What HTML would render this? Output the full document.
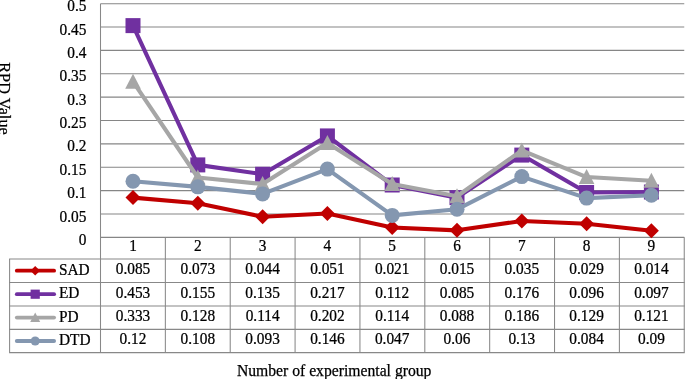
<!DOCTYPE html>
<html><head><meta charset="utf-8"><title>RPD chart</title>
<style>html,body{margin:0;padding:0;background:#fff}svg{display:block}text{stroke:#000;stroke-width:0.25px}</style></head>
<body>
<svg width="685" height="379" viewBox="0 0 685 379" font-family="'Liberation Serif', serif" font-size="15.9" fill="#000">
<rect width="685" height="379" fill="#fff"/>
<line x1="100.5" x2="684.25" y1="237.35" y2="237.35" stroke="#868686" stroke-width="1.05"/>
<line x1="100.5" x2="684.25" y1="213.98" y2="213.98" stroke="#868686" stroke-width="1.05"/>
<line x1="100.5" x2="684.25" y1="190.61" y2="190.61" stroke="#868686" stroke-width="1.05"/>
<line x1="100.5" x2="684.25" y1="167.24" y2="167.24" stroke="#868686" stroke-width="1.05"/>
<line x1="100.5" x2="684.25" y1="143.87" y2="143.87" stroke="#868686" stroke-width="1.05"/>
<line x1="100.5" x2="684.25" y1="120.50" y2="120.50" stroke="#868686" stroke-width="1.05"/>
<line x1="100.5" x2="684.25" y1="97.13" y2="97.13" stroke="#868686" stroke-width="1.05"/>
<line x1="100.5" x2="684.25" y1="73.76" y2="73.76" stroke="#868686" stroke-width="1.05"/>
<line x1="100.5" x2="684.25" y1="50.39" y2="50.39" stroke="#868686" stroke-width="1.05"/>
<line x1="100.5" x2="684.25" y1="27.02" y2="27.02" stroke="#868686" stroke-width="1.05"/>
<line x1="100.5" x2="684.25" y1="3.65" y2="3.65" stroke="#868686" stroke-width="1.05"/>
<line x1="100.5" x2="100.5" y1="3.65" y2="352.6" stroke="#888888" stroke-width="1.05"/>
<line x1="165.36" x2="165.36" y1="237.35" y2="352.6" stroke="#888888" stroke-width="1.05"/>
<line x1="230.22" x2="230.22" y1="237.35" y2="352.6" stroke="#888888" stroke-width="1.05"/>
<line x1="295.08" x2="295.08" y1="237.35" y2="352.6" stroke="#888888" stroke-width="1.05"/>
<line x1="359.94" x2="359.94" y1="237.35" y2="352.6" stroke="#888888" stroke-width="1.05"/>
<line x1="424.81" x2="424.81" y1="237.35" y2="352.6" stroke="#888888" stroke-width="1.05"/>
<line x1="489.67" x2="489.67" y1="237.35" y2="352.6" stroke="#888888" stroke-width="1.05"/>
<line x1="554.53" x2="554.53" y1="237.35" y2="352.6" stroke="#888888" stroke-width="1.05"/>
<line x1="619.39" x2="619.39" y1="237.35" y2="352.6" stroke="#888888" stroke-width="1.05"/>
<line x1="684.25" x2="684.25" y1="237.35" y2="352.6" stroke="#888888" stroke-width="1.05"/>
<line x1="9.6" x2="9.6" y1="258.9" y2="352.6" stroke="#888888" stroke-width="1.05"/>
<line x1="9.1" x2="684.75" y1="258.9" y2="258.9" stroke="#888888" stroke-width="1.05"/>
<line x1="9.1" x2="684.75" y1="282.5" y2="282.5" stroke="#888888" stroke-width="1.05"/>
<line x1="9.1" x2="684.75" y1="305.9" y2="305.9" stroke="#888888" stroke-width="1.05"/>
<line x1="9.1" x2="684.75" y1="329.35" y2="329.35" stroke="#888888" stroke-width="1.05"/>
<line x1="9.1" x2="684.75" y1="352.6" y2="352.6" stroke="#888888" stroke-width="1.05"/>
<text transform="translate(86.40,244.95) scale(0.965,1)" text-anchor="end">0</text>
<text transform="translate(86.40,221.58) scale(0.965,1)" text-anchor="end">0.05</text>
<text transform="translate(86.40,198.21) scale(0.965,1)" text-anchor="end">0.1</text>
<text transform="translate(86.40,174.84) scale(0.965,1)" text-anchor="end">0.15</text>
<text transform="translate(86.40,151.47) scale(0.965,1)" text-anchor="end">0.2</text>
<text transform="translate(86.40,128.10) scale(0.965,1)" text-anchor="end">0.25</text>
<text transform="translate(86.40,104.73) scale(0.965,1)" text-anchor="end">0.3</text>
<text transform="translate(86.40,81.36) scale(0.965,1)" text-anchor="end">0.35</text>
<text transform="translate(86.40,57.99) scale(0.965,1)" text-anchor="end">0.4</text>
<text transform="translate(86.40,34.62) scale(0.965,1)" text-anchor="end">0.45</text>
<text transform="translate(86.40,11.25) scale(0.965,1)" text-anchor="end">0.5</text>
<polyline points="133.00,197.62 197.80,203.23 262.60,216.78 327.40,213.51 392.20,227.53 457.00,230.34 521.80,220.99 586.60,223.80 651.40,230.81" fill="none" stroke="#C00000" stroke-width="4.1" stroke-linejoin="round" stroke-linecap="round"/>
<path d="M125.50 197.62L133.00 190.12L140.50 197.62L133.00 205.12Z" fill="#C00000"/>
<path d="M190.30 203.23L197.80 195.73L205.30 203.23L197.80 210.73Z" fill="#C00000"/>
<path d="M255.10 216.78L262.60 209.28L270.10 216.78L262.60 224.28Z" fill="#C00000"/>
<path d="M319.90 213.51L327.40 206.01L334.90 213.51L327.40 221.01Z" fill="#C00000"/>
<path d="M384.70 227.53L392.20 220.03L399.70 227.53L392.20 235.03Z" fill="#C00000"/>
<path d="M449.50 230.34L457.00 222.84L464.50 230.34L457.00 237.84Z" fill="#C00000"/>
<path d="M514.30 220.99L521.80 213.49L529.30 220.99L521.80 228.49Z" fill="#C00000"/>
<path d="M579.10 223.80L586.60 216.30L594.10 223.80L586.60 231.30Z" fill="#C00000"/>
<path d="M643.90 230.81L651.40 223.31L658.90 230.81L651.40 238.31Z" fill="#C00000"/>
<polyline points="133.00,25.62 197.80,164.90 262.60,174.25 327.40,135.92 392.20,185.00 457.00,197.62 521.80,155.09 586.60,192.48 651.40,192.01" fill="none" stroke="#7030A0" stroke-width="4.1" stroke-linejoin="round" stroke-linecap="round"/>
<rect x="125.50" y="18.12" width="15.00" height="15.00" fill="#7030A0"/>
<rect x="190.30" y="157.40" width="15.00" height="15.00" fill="#7030A0"/>
<rect x="255.10" y="166.75" width="15.00" height="15.00" fill="#7030A0"/>
<rect x="319.90" y="128.42" width="15.00" height="15.00" fill="#7030A0"/>
<rect x="384.70" y="177.50" width="15.00" height="15.00" fill="#7030A0"/>
<rect x="449.50" y="190.12" width="15.00" height="15.00" fill="#7030A0"/>
<rect x="514.30" y="147.59" width="15.00" height="15.00" fill="#7030A0"/>
<rect x="579.10" y="184.98" width="15.00" height="15.00" fill="#7030A0"/>
<rect x="643.90" y="184.51" width="15.00" height="15.00" fill="#7030A0"/>
<polyline points="133.00,81.71 197.80,177.52 262.60,184.07 327.40,142.94 392.20,184.07 457.00,196.22 521.80,150.41 586.60,177.06 651.40,180.79" fill="none" stroke="#A6A6A6" stroke-width="4.1" stroke-linejoin="round" stroke-linecap="round"/>
<path d="M125.20 88.71L133.00 73.71L140.80 88.71Z" fill="#A6A6A6"/>
<path d="M190.00 184.52L197.80 169.52L205.60 184.52Z" fill="#A6A6A6"/>
<path d="M254.80 191.07L262.60 176.07L270.40 191.07Z" fill="#A6A6A6"/>
<path d="M319.60 149.94L327.40 134.94L335.20 149.94Z" fill="#A6A6A6"/>
<path d="M384.40 191.07L392.20 176.07L400.00 191.07Z" fill="#A6A6A6"/>
<path d="M449.20 203.22L457.00 188.22L464.80 203.22Z" fill="#A6A6A6"/>
<path d="M514.00 157.41L521.80 142.41L529.60 157.41Z" fill="#A6A6A6"/>
<path d="M578.80 184.06L586.60 169.06L594.40 184.06Z" fill="#A6A6A6"/>
<path d="M643.60 187.79L651.40 172.79L659.20 187.79Z" fill="#A6A6A6"/>
<polyline points="133.00,181.26 197.80,186.87 262.60,193.88 327.40,169.11 392.20,215.38 457.00,209.31 521.80,176.59 586.60,198.09 651.40,195.28" fill="none" stroke="#8497B0" stroke-width="4.1" stroke-linejoin="round" stroke-linecap="round"/>
<circle cx="133.00" cy="181.26" r="7.50" fill="#8497B0"/>
<circle cx="197.80" cy="186.87" r="7.50" fill="#8497B0"/>
<circle cx="262.60" cy="193.88" r="7.50" fill="#8497B0"/>
<circle cx="327.40" cy="169.11" r="7.50" fill="#8497B0"/>
<circle cx="392.20" cy="215.38" r="7.50" fill="#8497B0"/>
<circle cx="457.00" cy="209.31" r="7.50" fill="#8497B0"/>
<circle cx="521.80" cy="176.59" r="7.50" fill="#8497B0"/>
<circle cx="586.60" cy="198.09" r="7.50" fill="#8497B0"/>
<circle cx="651.40" cy="195.28" r="7.50" fill="#8497B0"/>
<text transform="translate(133.00,251.35) scale(0.965,1)" text-anchor="middle">1</text>
<text transform="translate(197.80,251.35) scale(0.965,1)" text-anchor="middle">2</text>
<text transform="translate(262.60,251.35) scale(0.965,1)" text-anchor="middle">3</text>
<text transform="translate(327.40,251.35) scale(0.965,1)" text-anchor="middle">4</text>
<text transform="translate(392.20,251.35) scale(0.965,1)" text-anchor="middle">5</text>
<text transform="translate(457.00,251.35) scale(0.965,1)" text-anchor="middle">6</text>
<text transform="translate(521.80,251.35) scale(0.965,1)" text-anchor="middle">7</text>
<text transform="translate(586.60,251.35) scale(0.965,1)" text-anchor="middle">8</text>
<text transform="translate(651.40,251.35) scale(0.965,1)" text-anchor="middle">9</text>
<line x1="16.8" x2="54.1" y1="270.70" y2="270.70" stroke="#C00000" stroke-width="3.8" stroke-linecap="round"/>
<path d="M30.40 270.70L35.20 265.90L40.00 270.70L35.20 275.50Z" fill="#C00000"/>
<text transform="translate(59.00,274.80) scale(0.965,1)" text-anchor="start">SAD</text>
<text transform="translate(133.00,274.20) scale(0.965,1)" text-anchor="middle">0.085</text>
<text transform="translate(197.80,274.20) scale(0.965,1)" text-anchor="middle">0.073</text>
<text transform="translate(262.60,274.20) scale(0.965,1)" text-anchor="middle">0.044</text>
<text transform="translate(327.40,274.20) scale(0.965,1)" text-anchor="middle">0.051</text>
<text transform="translate(392.20,274.20) scale(0.965,1)" text-anchor="middle">0.021</text>
<text transform="translate(457.00,274.20) scale(0.965,1)" text-anchor="middle">0.015</text>
<text transform="translate(521.80,274.20) scale(0.965,1)" text-anchor="middle">0.035</text>
<text transform="translate(586.60,274.20) scale(0.965,1)" text-anchor="middle">0.029</text>
<text transform="translate(651.40,274.20) scale(0.965,1)" text-anchor="middle">0.014</text>
<line x1="16.8" x2="54.1" y1="294.20" y2="294.20" stroke="#7030A0" stroke-width="3.8" stroke-linecap="round"/>
<rect x="30.60" y="289.60" width="9.20" height="9.20" fill="#7030A0"/>
<text transform="translate(59.00,298.30) scale(0.965,1)" text-anchor="start">ED</text>
<text transform="translate(133.00,297.70) scale(0.965,1)" text-anchor="middle">0.453</text>
<text transform="translate(197.80,297.70) scale(0.965,1)" text-anchor="middle">0.155</text>
<text transform="translate(262.60,297.70) scale(0.965,1)" text-anchor="middle">0.135</text>
<text transform="translate(327.40,297.70) scale(0.965,1)" text-anchor="middle">0.217</text>
<text transform="translate(392.20,297.70) scale(0.965,1)" text-anchor="middle">0.112</text>
<text transform="translate(457.00,297.70) scale(0.965,1)" text-anchor="middle">0.085</text>
<text transform="translate(521.80,297.70) scale(0.965,1)" text-anchor="middle">0.176</text>
<text transform="translate(586.60,297.70) scale(0.965,1)" text-anchor="middle">0.096</text>
<text transform="translate(651.40,297.70) scale(0.965,1)" text-anchor="middle">0.097</text>
<line x1="16.8" x2="54.1" y1="317.62" y2="317.62" stroke="#A6A6A6" stroke-width="3.8" stroke-linecap="round"/>
<path d="M30.21 322.11L35.20 312.50L40.19 322.11Z" fill="#A6A6A6"/>
<text transform="translate(59.00,321.73) scale(0.965,1)" text-anchor="start">PD</text>
<text transform="translate(133.00,321.12) scale(0.965,1)" text-anchor="middle">0.333</text>
<text transform="translate(197.80,321.12) scale(0.965,1)" text-anchor="middle">0.128</text>
<text transform="translate(262.60,321.12) scale(0.965,1)" text-anchor="middle">0.114</text>
<text transform="translate(327.40,321.12) scale(0.965,1)" text-anchor="middle">0.202</text>
<text transform="translate(392.20,321.12) scale(0.965,1)" text-anchor="middle">0.114</text>
<text transform="translate(457.00,321.12) scale(0.965,1)" text-anchor="middle">0.088</text>
<text transform="translate(521.80,321.12) scale(0.965,1)" text-anchor="middle">0.186</text>
<text transform="translate(586.60,321.12) scale(0.965,1)" text-anchor="middle">0.129</text>
<text transform="translate(651.40,321.12) scale(0.965,1)" text-anchor="middle">0.121</text>
<line x1="16.8" x2="54.1" y1="340.98" y2="340.98" stroke="#8497B0" stroke-width="3.8" stroke-linecap="round"/>
<circle cx="35.20" cy="340.98" r="4.60" fill="#8497B0"/>
<text transform="translate(59.00,345.08) scale(0.965,1)" text-anchor="start">DTD</text>
<text transform="translate(133.00,344.48) scale(0.965,1)" text-anchor="middle">0.12</text>
<text transform="translate(197.80,344.48) scale(0.965,1)" text-anchor="middle">0.108</text>
<text transform="translate(262.60,344.48) scale(0.965,1)" text-anchor="middle">0.093</text>
<text transform="translate(327.40,344.48) scale(0.965,1)" text-anchor="middle">0.146</text>
<text transform="translate(392.20,344.48) scale(0.965,1)" text-anchor="middle">0.047</text>
<text transform="translate(457.00,344.48) scale(0.965,1)" text-anchor="middle">0.06</text>
<text transform="translate(521.80,344.48) scale(0.965,1)" text-anchor="middle">0.13</text>
<text transform="translate(586.60,344.48) scale(0.965,1)" text-anchor="middle">0.084</text>
<text transform="translate(651.40,344.48) scale(0.965,1)" text-anchor="middle">0.09</text>
<text x="334.2" y="375.6" font-size="15.68" text-anchor="middle">Number of experimental group</text>
<text transform="translate(-0.6,98.5) rotate(90)" font-size="16.3" text-anchor="middle">RPD Value</text>
</svg>
</body></html>
